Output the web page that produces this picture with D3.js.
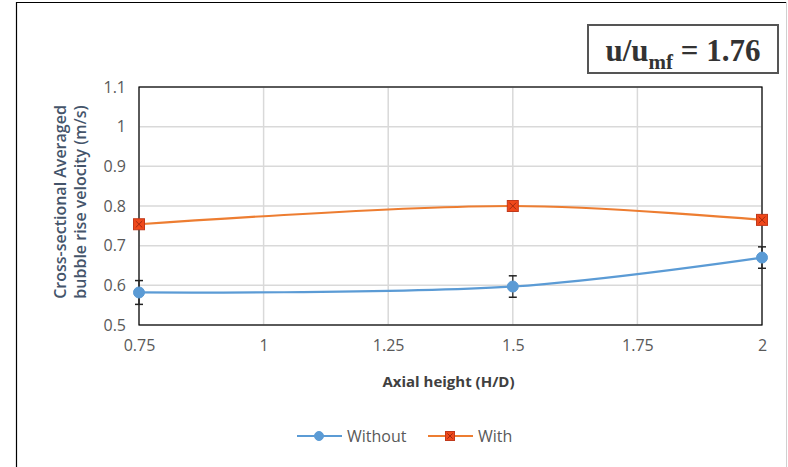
<!DOCTYPE html>
<html>
<head>
<meta charset="utf-8">
<script src="https://cdn.jsdelivr.net/npm/d3@7"></script>
<style>
  body { margin: 0; background: #fff; }
  svg { display: block; font-family: "Open Sans", Lato, sans-serif; }
</style>
</head>
<body>
<div id="chart"></div>
<script>
// data
const heights = [0.75, 1.5, 2];
const withoutVals = [0.582, 0.597, 0.670];
const withoutErr = [0.03, 0.027, 0.027];
const withVals = [0.754, 0.800, 0.765];
const withErr = [0.01, 0.01, 0.01];
const xTicks = [0.75, 1, 1.25, 1.5, 1.75, 2];
const yTicks = [0.5, 0.6, 0.7, 0.8, 0.9, 1, 1.1];

const W = 788, H = 467;
const margin = { top: 87, right: 26, bottom: 142, left: 139 },
  width = W - margin.left - margin.right,
  height = H - margin.top - margin.bottom;

const root = d3.select("#chart").append("svg")
  .attr("width", W)
  .attr("height", H);

// outer chart border (left / top dark, right faint)
root.append("path")
  .attr("d", "M16.5,470V2.5H786")
  .attr("fill", "none")
  .attr("stroke", "#000")
  .attr("stroke-width", 1.2);
root.append("line")
  .attr("x1", 786.5).attr("x2", 786.5).attr("y1", 2).attr("y2", 467)
  .attr("stroke", "#d0d0d0");

const svg = root.append("g")
  .attr("transform", `translate(${margin.left},${margin.top})`);

const x = d3.scaleLinear().domain([0.75, 2]).range([0, width]);
const y = d3.scaleLinear().domain([0.5, 1.1]).range([height, 0]);

// gridlines
svg.append("g")
  .selectAll("line")
  .data(xTicks)
  .join("line")
  .attr("x1", d => x(d)).attr("x2", d => x(d))
  .attr("y1", 0).attr("y2", height)
  .attr("stroke", "#d9d9d9").attr("stroke-width", 1.5);
svg.append("g")
  .selectAll("line")
  .data(yTicks)
  .join("line")
  .attr("x1", 0).attr("x2", width)
  .attr("y1", d => y(d)).attr("y2", d => y(d))
  .attr("stroke", "#d9d9d9").attr("stroke-width", 1.5);

// plot frame
svg.append("rect")
  .attr("width", width).attr("height", height)
  .attr("fill", "none").attr("stroke", "#000").attr("stroke-width", 1.2);

// axes (labels only)
const xAxis = svg.append("g")
  .attr("transform", `translate(0,${height})`)
  .call(d3.axisBottom(x).tickValues(xTicks).tickSize(0).tickPadding(15).tickFormat(d3.format("~g")));
const yAxis = svg.append("g")
  .call(d3.axisLeft(y).tickValues(yTicks).tickSize(0).tickPadding(13).tickFormat(d3.format("~g")));
[xAxis, yAxis].forEach(a => {
  a.select(".domain").remove();
  a.selectAll("text").attr("fill", "#595959").style("font-size", "16px")
    .style("font-family", "'Open Sans', Lato, sans-serif");
});

// axis titles
svg.append("text")
  .attr("x", width / 2 - 2).attr("y", height + 62)
  .attr("text-anchor", "middle")
  .attr("fill", "#404040")
  .style("font-size", "15px").style("font-weight", "bold")
  .text("Axial height (H/D)");

const yt = svg.append("text")
  .attr("transform", `translate(${-73},${height / 2 - 4}) rotate(-90)`)
  .attr("text-anchor", "middle")
  .attr("fill", "#44546a")
  .style("font-size", "16px").style("font-weight", 600);
yt.append("tspan").attr("x", 0).attr("dy", 0).text("Cross-sectional Averaged");
yt.append("tspan").attr("x", 0).attr("dy", 20).text("bubble rise velocity (m/s)");

const line = d3.line()
  .x(d => x(d[0])).y(d => y(d[1]))
  .curve(d3.curveCatmullRom.alpha(0.5));

const series = [
  { name: "Without", vals: withoutVals, err: withoutErr, color: "#5b9bd5", marker: "circle" },
  { name: "With", vals: withVals, err: withErr, color: "#ed7d31", marker: "square" }
];

series.forEach(s => {
  const pts = heights.map((h, i) => [h, s.vals[i], s.err[i]]);
  svg.append("path")
    .datum(pts)
    .attr("d", line)
    .attr("fill", "none")
    .attr("stroke", s.color)
    .attr("stroke-width", 2.2);

  // error bars
  const eb = svg.append("g").selectAll("g").data(pts).join("g");
  eb.append("line")
    .attr("x1", d => x(d[0])).attr("x2", d => x(d[0]))
    .attr("y1", d => y(d[1] - d[2])).attr("y2", d => y(d[1] + d[2]))
    .attr("stroke", "#222").attr("stroke-width", 1.2);
  [-1, 1].forEach(sg => {
    eb.append("line")
      .attr("x1", d => x(d[0]) - 4).attr("x2", d => x(d[0]) + 4)
      .attr("y1", d => y(d[1] + sg * d[2])).attr("y2", d => y(d[1] + sg * d[2]))
      .attr("stroke", "#222").attr("stroke-width", 1.5);
  });
});

function drawMarker(g, type, cx, cy, color, r) {
  if (type === "circle") {
    g.append("circle").attr("cx", cx).attr("cy", cy).attr("r", r)
      .attr("fill", color).attr("stroke", color);
  } else {
    g.append("rect").attr("x", cx - r).attr("y", cy - r).attr("width", 2 * r).attr("height", 2 * r)
      .attr("fill", "#f0481a").attr("stroke", "#c0391b").attr("stroke-width", 1);
    const k = r * 0.6;
    g.append("path")
      .attr("d", `M${cx - k},${cy - k}L${cx + k},${cy + k}M${cx + k},${cy - k}L${cx - k},${cy + k}`)
      .attr("stroke", "#a02a10").attr("stroke-width", 1);
  }
}

series.forEach(s => {
  const g = svg.append("g");
  heights.forEach((h, i) => drawMarker(g, s.marker, x(h), y(s.vals[i]), s.color, 5.5));
});

// legend
const legend = root.append("g").attr("transform", "translate(297,436)");
let lx = 0;
series.forEach(s => {
  const g = legend.append("g").attr("transform", `translate(${lx},0)`);
  g.append("line").attr("x1", 0).attr("x2", 45).attr("stroke", s.color).attr("stroke-width", 2.2);
  drawMarker(g, s.marker, 22, 0, s.color, 4.5);
  g.append("text").attr("x", 50).attr("dy", "0.35em")
    .attr("fill", "#595959").style("font-size", "16px")
    .text(s.name);
  lx += 131;
});

// annotation box
root.append("rect")
  .attr("x", 588).attr("y", 25).attr("width", 190).attr("height", 48)
  .attr("fill", "#fff").attr("stroke", "#555").attr("stroke-width", 2);
const ann = root.append("text")
  .attr("x", 683).attr("y", 61)
  .attr("text-anchor", "middle")
  .attr("fill", "#333")
  .style("font-family", "'Liberation Serif', 'DejaVu Serif', serif")
  .style("font-size", "31px").style("font-weight", "bold");
ann.append("tspan").text("u/u");
ann.append("tspan").attr("dy", 8).style("font-size", "21px").text("mf");
ann.append("tspan").attr("dy", -8).text(" = 1.76");
</script>
</body>
</html>
